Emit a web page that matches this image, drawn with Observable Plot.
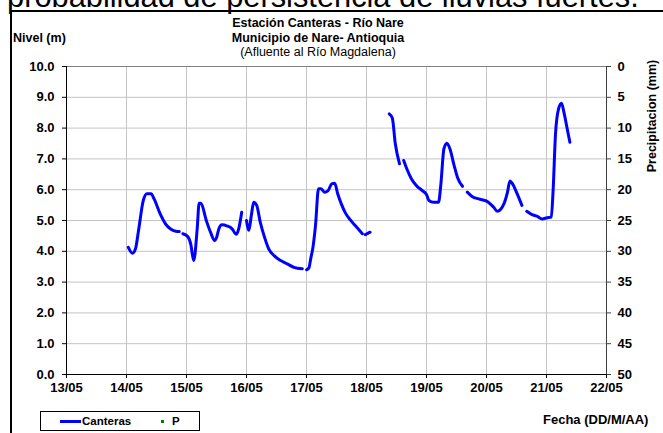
<!DOCTYPE html>
<html><head><meta charset="utf-8">
<script src="https://cdn.jsdelivr.net/npm/d3@7"></script>
<script src="https://cdn.jsdelivr.net/npm/@observablehq/plot@0.6"></script>
<style>
body{margin:0;background:#fff;}
#wrap{position:relative;width:663px;height:433px;overflow:hidden;font-family:"Liberation Sans",Arial,sans-serif;color:#000;}
#wrap .abs{position:absolute;white-space:nowrap;}
.b{font-weight:bold;font-size:12.5px;line-height:15px;}
</style></head><body>
<div id="wrap">
  <div class="abs" style="left:7px;top:-19px;font-size:30.8px;line-height:31px;">probabilidad de persistencia de lluvias fuertes.</div>
  <div class="abs" style="left:10px;top:10px;width:700px;height:460px;border-left:2px solid #000;border-top:2px solid #000;"></div>
  <div id="chart" class="abs" style="left:0;top:0;"></div>
  <div class="abs b" style="left:0;width:636px;text-align:center;top:16px;">Estación Canteras - Río Nare</div>
  <div class="abs b" style="left:0;width:636px;text-align:center;top:31px;">Municipio de Nare- Antioquia</div>
  <div class="abs" style="left:0;width:636px;text-align:center;top:45px;font-size:12.5px;line-height:15px;">(Afluente al Río Magdalena)</div>
  <div class="abs b" style="left:13px;top:31px;">Nivel (m)</div>
  <div class="abs b" style="left:652px;top:116px;transform:translate(-50%,-50%) rotate(-90deg);">Precipitacion (mm)</div>
  <div class="abs b" style="left:543px;top:412px;font-size:13px;">Fecha (DD/M/AA)</div>
  <div class="abs" style="left:40px;top:411px;width:158px;height:18px;border:1px solid #000;">
    <div class="abs" style="left:19px;top:8px;width:21px;height:3px;background:#0000ff;"></div>
    <div class="abs b" style="left:41px;top:2px;font-size:11.5px;line-height:14px;">Canteras</div>
    <div class="abs" style="left:120px;top:8px;width:3px;height:3px;background:#008000;"></div>
    <div class="abs b" style="left:131px;top:2px;font-size:11.5px;line-height:14px;">P</div>
  </div>
</div>
<script>
// Día de mayo (decimal) y nivel (m); null = hueco en la serie
const dias = [
  14.03,14.10,14.15,14.20,14.28,14.34,14.41,14.46,14.56,14.65,14.73,14.82,14.88,
  14.91,
  14.94,15.02,15.07,15.12,15.18,15.21,15.24,15.33,15.40,15.47,15.50,15.54,15.59,15.68,15.76,15.83,15.87,15.92,
  15.96,
  16.00,16.04,16.08,16.12,16.17,16.23,16.30,16.37,16.46,16.57,16.68,16.79,16.93,
  16.96,
  17.00,17.04,17.07,17.11,17.15,17.20,17.24,17.30,17.36,17.42,17.47,17.52,17.58,17.65,17.73,17.82,17.93,
  17.95,
  17.98,18.06,
  18.20,
  18.38,18.43,18.48,18.55,
  18.58,
  18.62,18.68,18.75,18.83,18.93,19.00,19.04,19.12,19.20,19.24,19.29,19.34,19.39,19.46,19.52,19.60,
  19.64,
  19.68,19.76,19.87,20.01,20.12,20.18,20.29,20.35,20.39,20.44,20.51,20.59,
  20.63,
  20.67,20.76,20.84,20.93,21.01,21.08,21.11,21.15,21.20,21.25,21.29,21.34,21.39
];
const nivel = [
  4.13,3.94,4.08,4.67,5.65,5.87,5.87,5.70,5.22,4.89,4.73,4.65,4.64,
  null,
  4.57,4.48,4.24,3.70,4.78,5.56,5.56,5.00,4.62,4.35,4.44,4.73,4.86,4.82,4.73,4.55,4.73,5.27,
  null,
  5.00,4.68,5.16,5.59,5.49,4.94,4.46,4.08,3.86,3.70,3.59,3.48,3.43,
  null,
  3.40,3.46,3.76,4.16,4.84,6.03,6.03,5.92,5.97,6.19,6.21,5.87,5.54,5.24,5.02,4.82,4.57,
  null,
  4.54,4.62,
  null,
  8.46,8.33,7.49,6.84,
  null,
  6.95,6.64,6.35,6.14,5.97,5.84,5.65,5.59,5.59,6.19,7.33,7.51,7.33,6.79,6.38,6.11,
  null,
  5.92,5.78,5.70,5.62,5.43,5.30,5.54,5.92,6.28,6.17,5.87,5.49,
  null,
  5.30,5.19,5.14,5.05,5.09,5.11,5.97,7.81,8.62,8.81,8.52,8.03,7.54
];
// Precipitación P (mm): sin datos visibles
const diasP = [];
const precipitacion = [];

const nivelTicks = [0,1,2,3,4,5,6,7,8,9,10];
const precipTicks = [0,5,10,15,20,25,30,35,40,45,50];
const fechaTicks = [13,14,15,16,17,18,19,20,21,22];

const toDate = d => new Date(Date.UTC(2008, 4, 1) + (d - 1) * 864e5);
const serie = dias.map((d, i) => ({fecha: toDate(d), nivel: nivel[i]}));
const serieP = diasP.map((d, i) => ({fecha: toDate(d), p: precipitacion[i]}));
const x0 = toDate(13), x1 = toDate(22);
const fmt = d3.utcFormat("%d/%m");

const chart = Plot.plot({
  width: 663, height: 400,
  marginLeft: 66, marginRight: 57, marginTop: 66, marginBottom: 26,
  style: {fontFamily: "Liberation Sans, Arial, sans-serif", fontSize: "13px", fontWeight: "bold", color: "#000", background: "transparent", overflow: "visible"},
  x: {type: "utc", domain: [x0, x1]},
  y: {domain: [0, 10]},
  marks: [
    Plot.gridX(fechaTicks.map(toDate), {stroke: "#c4c4c4", strokeOpacity: 1}),
    Plot.gridY(nivelTicks, {stroke: "#c4c4c4", strokeOpacity: 1}),
    Plot.ruleY([10], {stroke: "#808080"}),
    Plot.ruleX([x1], {stroke: "#404040"}),
    Plot.ruleX([x0], {stroke: "#000"}),
    Plot.ruleY([0], {stroke: "#000"}),
    Plot.axisY(nivelTicks, {anchor: "left", tickSize: 4, tickPadding: 8, tickFormat: d => d.toFixed(1), label: null, stroke: "#000"}),
    Plot.axisY(precipTicks.map(p => 10 - p / 5), {anchor: "right", tickSize: 4, tickPadding: 7, tickFormat: d => String(Math.round(50 - 5 * d)), label: null, stroke: "#404040", textAnchor: "start"}),
    Plot.axisX(fechaTicks.map(toDate), {anchor: "bottom", tickSize: 4, tickPadding: 4, tickFormat: fmt, label: null, stroke: "#000"}),
    Plot.line(serie, {x: "fecha", y: "nivel", stroke: "#0000ff", strokeWidth: 3, curve: "monotone-x"}),
    Plot.dot(serieP, {x: "fecha", y: d => 10 - d.p / 5, fill: "#008000", r: 1.5})
  ]
});
document.getElementById("chart").appendChild(chart);
</script>
</body></html>
